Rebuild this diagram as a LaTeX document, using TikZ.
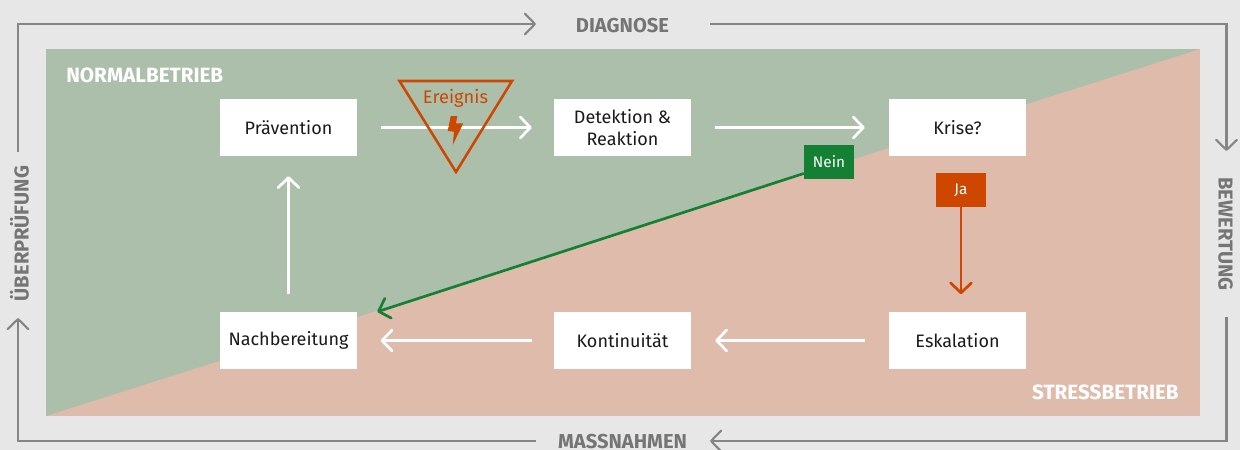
\documentclass[tikz,border=0pt]{standalone}
\usepackage{fontspec}
\usetikzlibrary{arrows.meta}
\setmainfont{Fira Sans}
\definecolor{bgc}{HTML}{E7E7E7}
\definecolor{greenarea}{HTML}{ACBFAA}
\definecolor{rosearea}{HTML}{DFBBAC}
\definecolor{framec}{HTML}{858585}
\definecolor{labelc}{HTML}{757575}
\definecolor{orangec}{HTML}{CD4700}
\definecolor{greenc}{HTML}{138034}
\definecolor{textc}{HTML}{1A1A1A}
\tikzset{
  boxn/.style={fill=white,minimum width=102.75pt,minimum height=42.75pt,inner sep=0pt,align=center,text=textc,font=\fontsize{13.5}{17}\selectfont},
  vee/.style={-{Straight Barb[length=7.5pt,width=15.5pt,line width=2pt,round]},line width=2pt},
  flow/.style={vee,draw=white},
  framearrow/.style={-{Straight Barb[length=7.5pt,width=15.5pt,line width=1.6pt,round]},line width=1.6pt,draw=framec,line join=miter},
  framelabel/.style={text=labelc,font=\fontsize{15.1}{18}\selectfont\bfseries,inner sep=0pt},
  zonelabel/.style={text=white,font=\fontsize{15.5}{18}\selectfont\bfseries,inner sep=0pt},
  tag/.style={minimum width=37.5pt,minimum height=25.5pt,inner sep=0pt,text=white,font=\fontsize{11.5}{14}\selectfont},
}
\begin{document}
\begin{tikzpicture}[x=0.75pt,y=-0.75pt]
\useasboundingbox (0,0) rectangle (1240,450);
\fill[bgc] (0,0) rectangle (1240,450);
\fill[rosearea] (46,49) rectangle (1200,416);
\fill[greenarea] (46,49) -- (1200,49) -- (46,416) -- cycle;

\node[zonelabel,anchor=west] (zn) at (66,75.5) {NORMALBETRIEB};
\node[zonelabel,anchor=east] (zs) at (1179,392.5) {STRESSBETRIEB};

\node[framelabel] (diag) at (622.5,25.5) {DIAGNOSE};
\node[framelabel] (mass) at (622.5,441.5) {MASSNAHMEN};
\node[framelabel,rotate=90] (ueber) at (19.5,233.5) {ÜBERPRÜFUNG};
\node[framelabel,rotate=-90] (bew) at (1225.5,234) {BEWERTUNG};

\draw[framearrow] (18,152) -- (18,24) -- (536,24);
\draw[framearrow] (710,24) -- (1226.5,24) -- (1226.5,151);
\draw[framearrow] (1226.5,316.5) -- (1226.5,441) -- (710,441);
\draw[framearrow] (536,441) -- (18,441) -- (18,318);

\node[boxn] (prae) at (288.5,127.5) {Prävention};
\node[boxn] (det) at (622.5,127.5) {Detektion \&\\Reaktion};
\node[boxn] (krise) at (957.5,127.5) {Krise?};
\node[boxn] (nach) at (288.5,340.5) {Nachbereitung};
\node[boxn] (kont) at (622.5,340.5) {Kontinuität};
\node[boxn] (esk) at (957.5,340.5) {Eskalation};

\draw[flow] ([xshift=17.5pt]prae.east) -- ([xshift=-16.5pt]det.west);
\draw[flow] ([xshift=18pt]det.east) -- ([xshift=-18pt]krise.west);
\draw[flow] ([xshift=-18pt]esk.west) -- ([xshift=18pt]kont.east);
\draw[flow] ([xshift=-16.5pt]kont.west) -- ([xshift=17.5pt]nach.east);
\draw[flow] ([yshift=13.5pt]nach.north) -- ([yshift=-15pt]prae.south);

\node[tag,fill=greenc] (nein) at (829,162) {Nein};
\node[tag,fill=orangec] (ja) at (961,190) {Ja};
\draw[vee,draw=greenc] ([yshift=-8.6pt]nein.west) -- ([xshift=15pt]nach.north east);
\draw[vee,draw=orangec] (ja.south) -- ++(0,87);

\draw[draw=orangec,line width=1.9pt,line join=miter] (399.5,81) -- (512,81) -- (456,172) -- cycle;
\node[text=orangec,font=\fontsize{13.7}{17}\selectfont,inner sep=0pt] (ereignis) at (455.5,98) {Ereignis};
\fill[orangec] (450.7,116) -- (457.3,116) -- (456,123.3) -- (463.3,123.3) -- (452.7,145) -- (454,131.7) -- (447.7,131) -- cycle;
\end{tikzpicture}
\end{document}
